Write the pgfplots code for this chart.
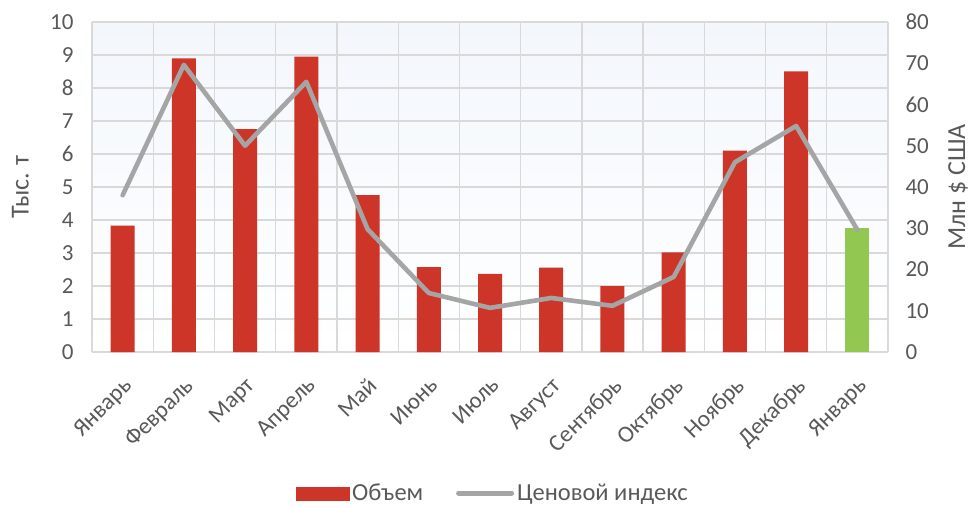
\documentclass[border=0pt]{standalone}
\usepackage{pgfplots}
\pgfplotsset{compat=1.18}
\usepackage{fontspec}
\setmainfont{Carlito}
\definecolor{txt}{HTML}{595959}
\definecolor{gridc}{HTML}{D9D9D9}
\definecolor{barred}{HTML}{CC3528}
\definecolor{bargreen}{HTML}{92C851}
\definecolor{linegray}{HTML}{A5A5A5}
\definecolor{bgtop}{HTML}{F3F7FC}
\begin{document}
\begin{tikzpicture}
\path[use as bounding box] (-92pt,-156pt) rectangle (879pt,352pt);
\pgfplotsset{
  base/.style={
    at={(0,0)}, anchor=south west,
    scale only axis, width=796pt, height=330pt,
    xmin=-0.5, xmax=12.5,
    axis line style={draw=none},
    major tick length=0pt, minor tick length=0pt,
    tick label style={font=\fontsize{23}{25}\selectfont, text=txt},
    label style={font=\fontsize{26}{28}\selectfont, text=txt},
    /pgf/number format/assume math mode=true,
  }
}
\begin{axis}[base,
  ymin=0, ymax=10, ytick={0,1,...,10},
  yticklabel style={xshift=-15pt},
  xtick={0,...,12},
  xticklabels={Январь,Февраль,Март,Апрель,Май,Июнь,Июль,Август,Сентябрь,Октябрь,Ноябрь,Декабрь,Январь},
  xticklabel style={rotate=45, anchor=north east, inner sep=0pt, font=\fontsize{23.5}{25}\selectfont, xshift=-17.3pt, yshift=-16.3pt},
  minor xtick={-0.5,0.5,...,12.5},
  xminorgrids=true, ymajorgrids=true,
  grid style={gridc, line width=1.3pt},
  minor grid style={gridc, line width=1.3pt},
  axis background/.style={shade, top color=bgtop, bottom color=white},
  ylabel={Тыс. т},
  ylabel style={at={(axis description cs:-0.09,0.5)}, anchor=center},
  ybar, bar width=24pt, bar shift=0pt,
]
\addplot[fill=barred, draw=none] coordinates {
(0,3.83) (1,8.9) (2,6.75) (3,8.95) (4,4.75) (5,2.57) (6,2.37) (7,2.56) (8,2.0) (9,3.02) (10,6.1) (11,8.5)};
\addplot[fill=bargreen, draw=none] coordinates {(12,3.75)};
\end{axis}
\begin{axis}[base,
  ymin=0, ymax=80, ytick={0,10,...,80},
  yticklabel style={xshift=14pt},
  axis y line*=right, xtick=\empty,
  ylabel={Млн \$ США},
  ylabel style={at={(axis description cs:1.088,0.5)}, anchor=center, rotate=0},
  legend style={at={(0.504,-0.428)}, anchor=center, draw=none, fill=none,
    legend columns=2, font=\fontsize{24.5}{26}\selectfont, text=txt,
    inner sep=0pt,
    /tikz/every even column/.append style={column sep=30pt},
    nodes={inner xsep=3pt, inner ysep=0pt}},
  legend cell align=left,
]
\addlegendimage{legend image code/.code={\fill[barred] (0pt,-6.5pt) rectangle (53pt,6.5pt);}}
\addlegendentry{Объем}
\addplot[linegray, line width=4.6pt, line join=round, line cap=round,
  legend image code/.code={\draw[linegray, line width=5pt, line cap=round] (2pt,0pt) -- (55pt,0pt);}] coordinates {
(0,38) (1,69.6) (2,50) (3,65.5) (4,29.8) (5,14.3) (6,10.7) (7,13.1) (8,11.2) (9,18.2) (10,46) (11,54.8) (12,29.6)};
\addlegendentry{Ценовой индекс}
\end{axis}
\end{tikzpicture}
\end{document}
